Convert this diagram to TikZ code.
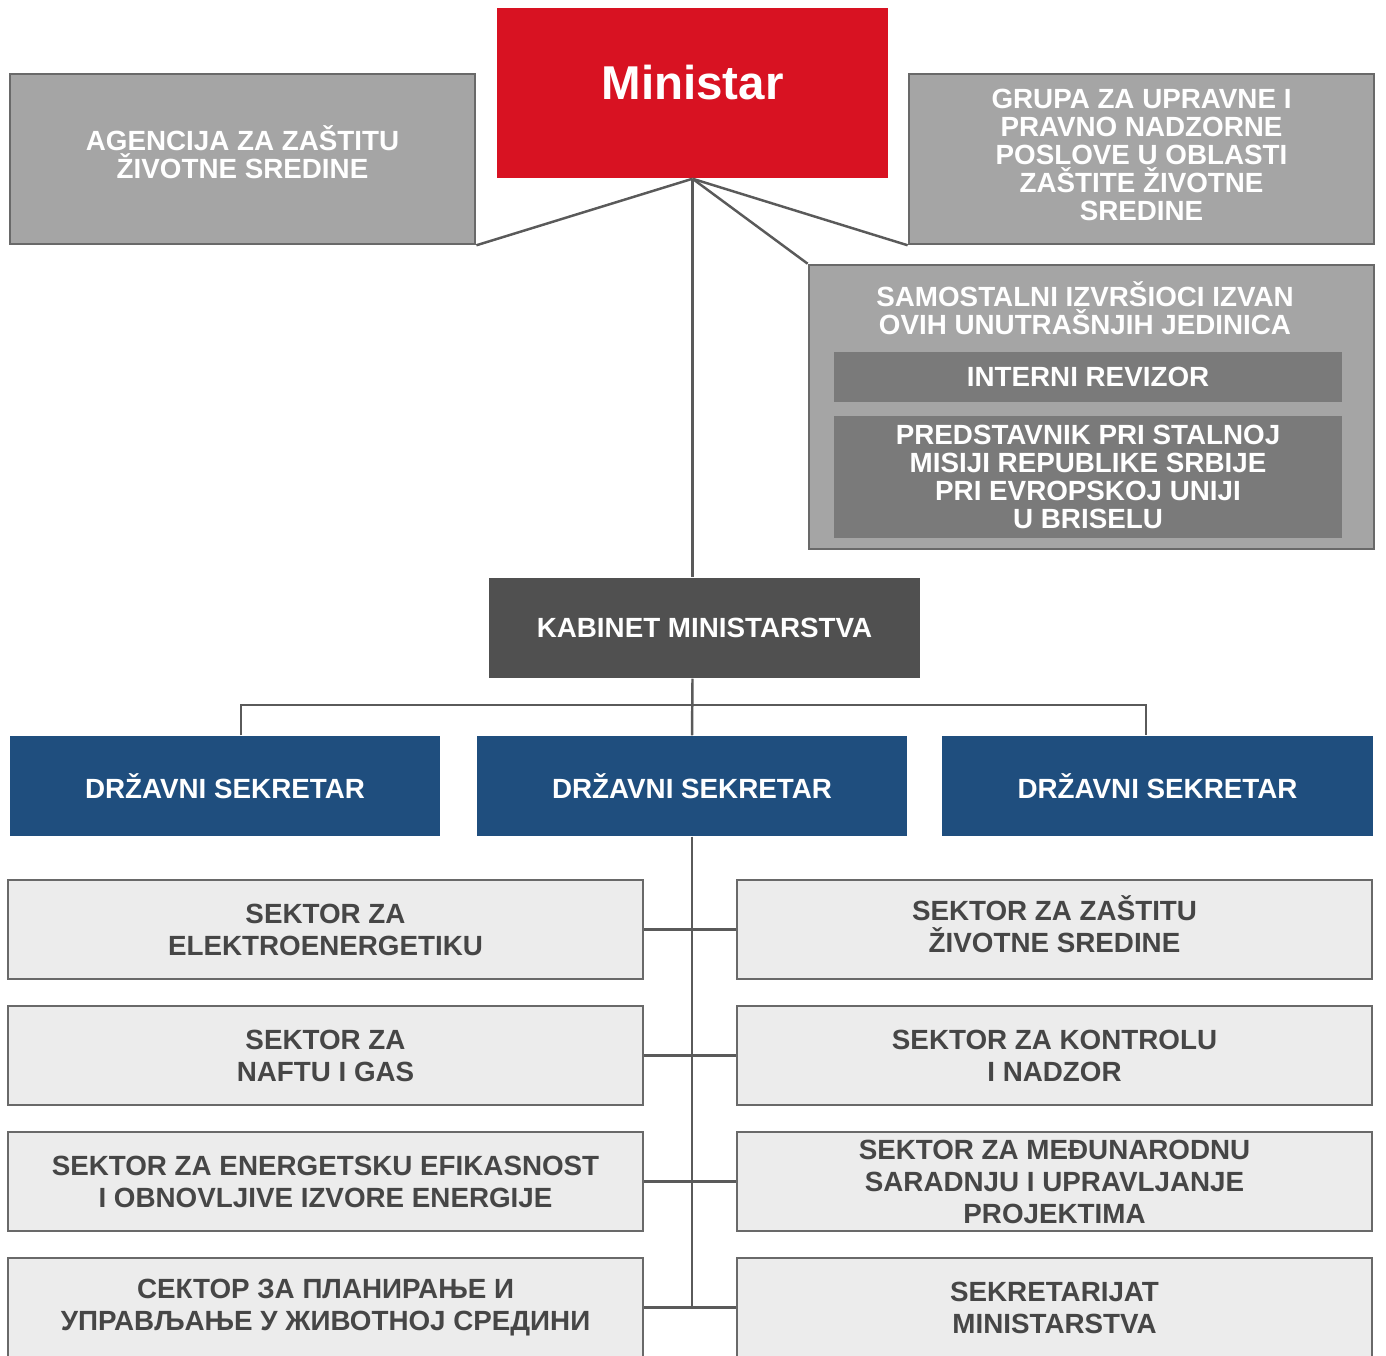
\documentclass[tikz,border=0pt]{standalone}
\usepackage{fontspec}
\setmainfont{Liberation Sans}
\usepackage{tikz}
\usetikzlibrary{positioning, calc}

\definecolor{ministarred}{RGB}{216, 18, 34}
\definecolor{sivafill}{RGB}{165, 165, 165}
\definecolor{sivarub}{RGB}{105, 105, 105}
\definecolor{unutrfill}{RGB}{122, 122, 122}
\definecolor{kabinetgray}{RGB}{80, 80, 80}
\definecolor{sekretarblue}{RGB}{31, 78, 126}
\definecolor{sektorfill}{RGB}{236, 236, 236}
\definecolor{sektortext}{RGB}{70, 70, 70}
\definecolor{linija}{RGB}{90, 90, 90}

\tikzset{
  box/.style={rectangle, inner sep=2pt, align=center, font=\bfseries\fontsize{7.9}{8}\selectfont},
  ministarbox/.style={box, fill=ministarred, text=white, font=\bfseries\fontsize{13.5}{15}\selectfont},
  sivibox/.style={box, fill=sivafill, draw=sivarub, line width=0.7pt, text=white},
  unutrbox/.style={box, fill=unutrfill, text=white},
  kabinetbox/.style={box, fill=kabinetgray, text=white},
  sekretarbox/.style={box, fill=sekretarblue, text=white},
  sektorbox/.style={box, fill=sektorfill, draw=sivarub, line width=0.7pt, text=sektortext,
    font=\bfseries\fontsize{7.9}{9.1}\selectfont, minimum width=6.35cm, minimum height=0.99cm},
  veza/.style={draw=linija, line width=0.7pt}
}

\begin{document}
\begin{tikzpicture}[x=0.01cm, y=-0.01cm]
  \useasboundingbox (0,0) rectangle (1386,1355);
  \clip (0,0) rectangle (1386,1355);
  \fill[white] (0,0) rectangle (1386,1355);

  % vrh
  \node[ministarbox, minimum width=3.91cm, minimum height=1.70cm, text depth=0.22cm] (ministar) at (692.5,93) {Ministar};
  \node[sivibox, minimum width=4.65cm, minimum height=1.70cm, text depth=0.14cm] (agencija) at (242.5,159)
    {AGENCIJA ZA ZAŠTITU\\ŽIVOTNE SREDINE};
  \node[sivibox, minimum width=4.65cm, minimum height=1.70cm, text depth=0.08cm] (grupa) at (1141.5,159)
    {GRUPA ZA UPRAVNE I\\PRAVNO NADZORNE\\POSLOVE U OBLASTI\\ZAŠTITE ŽIVOTNE\\SREDINE};

  % samostalni izvrsioci
  \node[sivibox, minimum width=5.65cm, minimum height=2.84cm] (samostalni) at (1091.5,407) {};
  \node[box, text=white] (samonaslov) at (1085,308) {SAMOSTALNI IZVRŠIOCI IZVAN\\OVIH UNUTRAŠNJIH JEDINICA};
  \node[unutrbox, minimum width=5.08cm, minimum height=0.50cm] (revizor) at (1088,377) {INTERNI REVIZOR};
  \node[unutrbox, minimum width=5.08cm, minimum height=1.22cm] (predstavnik) at (1088,477)
    {PREDSTAVNIK PRI STALNOJ\\MISIJI REPUBLIKE SRBIJE\\PRI EVROPSKOJ UNIJI\\U BRISELU};

  % kabinet i sekretari
  \node[kabinetbox, minimum width=4.31cm, minimum height=1.00cm] (kabinet) at (704.5,628) {KABINET MINISTARSTVA};
  \node[sekretarbox, minimum width=4.30cm, minimum height=1.00cm] (ds1) at (225,786) {DRŽAVNI SEKRETAR};
  \node[sekretarbox, minimum width=4.30cm, minimum height=1.00cm] (ds2) at (692,786) {DRŽAVNI SEKRETAR};
  \node[sekretarbox, minimum width=4.31cm, minimum height=1.00cm] (ds3) at (1157.5,786) {DRŽAVNI SEKRETAR};

  % sektori
  \node[sektorbox] (s1) at (325.5,929.5) {SEKTOR ZA\\ELEKTROENERGETIKU};
  \node[sektorbox] (s2) at (325.5,1055.5) {SEKTOR ZA\\NAFTU I GAS};
  \node[sektorbox] (s3) at (325.5,1181.5) {SEKTOR ZA ENERGETSKU EFIKASNOST\\I OBNOVLJIVE IZVORE ENERGIJE};
  \node[sektorbox] (s4) at (325.5,1307.5) {СЕКТОР ЗА ПЛАНИРАЊЕ И\\УПРАВЉАЊЕ У ЖИВОТНОЈ СРЕДИНИ};
  \node[sektorbox, text depth=0.1cm] (d1) at (1054.5,929.5) {SEKTOR ZA ZAŠTITU\\ŽIVOTNE SREDINE};
  \node[sektorbox] (d2) at (1054.5,1055.5) {SEKTOR ZA KONTROLU\\I NADZOR};
  \node[sektorbox] (d3) at (1054.5,1181.5) {SEKTOR ZA MEĐUNARODNU\\SARADNJU I UPRAVLJANJE\\PROJEKTIMA};
  \node[sektorbox] (d4) at (1054.5,1307.5) {SEKRETARIJAT\\MINISTARSTVA};

  % veze
  \draw[veza] (ministar.south) -- (agencija.south east);
  \draw[veza] (ministar.south) -- (grupa.south west);
  \draw[veza] (ministar.south) -- (samostalni.north west);
  \draw[veza] (ministar.south) -- (ministar.south |- kabinet.north);
  \draw[veza] (ministar.south |- kabinet.south) -- (ds2.north);
  \coordinate (lijevo) at (241,705);
  \coordinate (desno) at (1146,705);
  \draw[veza] (lijevo |- ds1.north) -- (lijevo) -- (desno) -- (desno |- ds3.north);
  \coordinate (kraj) at (692,1308);
  \draw[veza] (ds2.south) -- (kraj);
  \foreach \l/\d in {s1/d1, s2/d2, s3/d3, s4/d4}
    \draw[veza] (\l.east) -- (\d.west);
\end{tikzpicture}
\end{document}
